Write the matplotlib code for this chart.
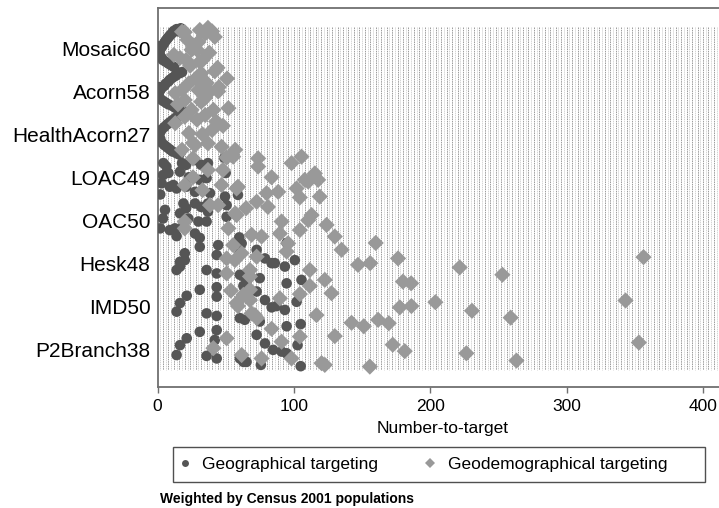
import numpy as np
import matplotlib
matplotlib.use("Agg")
import matplotlib.pyplot as plt
from matplotlib.lines import Line2D
from matplotlib.patches import Rectangle

plt.rcParams['font.family'] = ['Liberation Sans', 'DejaVu Sans']

categories = ["Mosaic60", "Acorn58", "HealthAcorn27", "LOAC49",
              "OAC50", "Hesk48", "IMD50", "P2Branch38"]

# Geographical targeting: number-to-target values and vertical jitter (row units)
geo_x = [
    [17, 16, 14, 15, 12, 11, 10, 9, 8, 7, 6, 5, 4, 3, 2, 1.5, 1, 2, 3, 4, 6, 8, 10, 12, 1, 0.5],
    [18, 16, 14, 13, 11, 9, 8, 6, 5, 3, 2, 1, 0.5, 1, 2, 4, 6, 8, 11, 13, 15, 18, 20, 1.5, 0.8],
    [17, 15, 13, 11, 9, 7, 5, 3, 2, 1, 0.5, 1.5, 3, 5, 7, 9, 11, 14, 16, 1, 2],
    [6.5, 4, 3, 18, 21, 16.5, 23, 27.5, 32, 37, 31, 36, 14, 9, 21, 27.5, 38.5, 49, 49.5, 4.3, 8, 50, 11.6, 59, 2],
    [5.5, 4, 2, 19, 21, 16.5, 27.5, 32, 37, 37, 50.7, 50.7, 30, 36, 22.6, 12.8, 9, 27.5, 19, 60, 14, 31],
    [20, 16.5, 14, 31, 44.5, 43.4, 36, 43.4, 61.7, 60.4, 72.7, 78.8, 86, 93.4, 100.7, 94.7, 60.4, 75, 65.3, 105.6, 94.7, 20, 16.5, 83.7, 63],
    [14, 16.5, 21.4, 31, 36, 43.4, 43.4, 43.4, 63, 60.4, 64, 72.7, 78.8, 83.7, 87.3, 93.4, 75, 102, 105, 94.7],
    [14, 16.5, 21.4, 31, 36, 43.4, 42, 60.4, 63, 65.3, 72.7, 78.8, 84.8, 91, 102.7, 105, 75.8, 43.4, 94.7],
]
geo_jit = [
    [-0.47, -0.44, -0.45, -0.40, -0.41, -0.37, -0.33, -0.30, -0.26, -0.22, -0.18, -0.13, -0.08, -0.03, 0.02, 0.07, 0.12, 0.17, 0.22, 0.27, 0.31, 0.35, 0.39, 0.43, -0.05, 0.10],
    [-0.45, -0.42, -0.40, -0.36, -0.32, -0.27, -0.23, -0.18, -0.13, -0.08, -0.03, 0.02, 0.07, 0.12, 0.17, 0.22, 0.26, 0.30, 0.34, 0.38, 0.42, 0.45, 0.47, -0.10, 0.10],
    [-0.45, -0.42, -0.38, -0.33, -0.28, -0.23, -0.17, -0.11, -0.05, 0.01, 0.07, 0.13, 0.19, 0.25, 0.30, 0.35, 0.40, 0.44, 0.47, -0.02, 0.10],
    [-0.25, -0.05, 0.14, -0.33, -0.29, -0.13, 0.0, -0.40, -0.29, -0.33, 0.06, 0.02, 0.26, 0.22, 0.22, 0.34, 0.37, -0.45, 0.45, -0.33, -0.10, -0.10, 0.18, 0.41, 0.40],
    [-0.24, -0.04, 0.19, -0.39, -0.28, -0.16, -0.39, -0.31, -0.39, -0.20, -0.35, -0.08, 0.03, 0.03, -0.04, 0.19, 0.23, 0.31, 0.11, 0.40, 0.37, 0.41],
    [-0.07, 0.08, 0.16, -0.38, -0.42, -0.19, 0.16, 0.24, -0.46, -0.23, -0.31, -0.11, 0.0, 0.08, -0.07, -0.47, 0.27, 0.35, 0.43, 0.39, 0.47, -0.23, -0.03, 0.0, 0.31],
    [0.13, -0.07, -0.24, -0.38, 0.17, -0.44, -0.22, 0.23, -0.47, 0.28, 0.32, -0.34, -0.14, 0.03, 0.0, 0.09, 0.36, -0.10, 0.42, 0.47],
    [0.14, -0.09, -0.25, -0.40, 0.16, -0.44, -0.21, 0.22, 0.30, 0.30, -0.33, -0.13, 0.02, 0.06, -0.09, 0.40, 0.37, 0.22, 0.10],
]

# Geodemographical targeting
demo_x = [
    [37, 42, 20, 30, 25, 16.5, 31, 44, 31, 22, 29, 33, 18, 35, 40, 21, 27, 38, 12, 24],
    [51, 42, 32, 23, 30, 38.5, 18, 52, 32, 25, 41, 20, 13, 28, 36, 45, 15, 35, 44.5, 34.8],
    [43, 29, 23, 40, 27.5, 37, 20, 13, 57, 54, 47, 18, 26, 33, 48, 35],
    [55.5, 50.7, 73.8, 73.8, 98.3, 105.6, 48, 26, 20, 47, 83.7, 108, 115.4, 117.8, 102, 58, 88.5, 80, 104.4, 119, 59, 110.5, 26, 37, 33],
    [44.5, 58, 65, 72.7, 81, 113, 110.5, 91, 69, 89.7, 104.4, 130, 52, 20, 38.5, 124, 76.3, 57, 20],
    [67.8, 56.8, 72.7, 94.7, 111.7, 122.7, 50.7, 55.5, 61.7, 95.8, 135, 160, 147, 156, 176.4, 180, 186, 221.6, 252.9, 356.4, 50.7, 67.8],
    [53.8, 58, 63, 67.8, 71.4, 89.7, 104.4, 111.7, 116.6, 127.6, 67.8, 177.7, 186.2, 203.8, 230.6, 259, 343.2, 142.3, 151.3, 161.8, 169.6, 59, 69, 73],
    [41, 50.7, 61.7, 76.3, 91, 98.3, 104.4, 120.3, 122.7, 130, 83.7, 172.5, 181.3, 155.7, 226.5, 263.2, 353],
]
demo_jit = [
    [-0.48, -0.27, -0.38, -0.15, 0.03, 0.22, 0.31, 0.45, -0.43, -0.20, 0.03, 0.27, -0.39, -0.35, -0.40, 0.27, -0.05, 0.10, 0.15, 0.40],
    [-0.30, -0.47, -0.42, -0.19, -0.03, 0.0, -0.03, 0.39, 0.24, 0.43, 0.43, 0.20, 0.04, -0.30, -0.20, -0.10, 0.30, 0.15, 0.0, -0.19],
    [-0.30, -0.34, -0.03, -0.10, 0.25, 0.21, -0.41, -0.26, 0.36, 0.48, 0.29, 0.36, 0.20, 0.0, -0.20, -0.45],
    [-0.48, -0.46, -0.44, -0.25, -0.33, -0.48, -0.17, 0.0, 0.18, 0.18, 0.0, 0.06, -0.09, 0.06, 0.26, 0.26, 0.34, 0.37, 0.47, 0.45, 0.22, 0.10, -0.44, -0.17, 0.30],
    [-0.35, -0.12, -0.28, -0.43, -0.31, -0.12, 0.0, 0.03, 0.34, 0.31, 0.23, 0.38, 0.19, 0.03, -0.35, 0.11, 0.38, -0.16, 0.19],
    [0.16, -0.07, -0.15, -0.27, 0.16, 0.39, -0.11, -0.42, -0.23, -0.46, -0.31, -0.47, 0.04, 0.0, -0.11, 0.43, 0.47, 0.10, 0.27, -0.14, 0.24, 0.31],
    [-0.36, -0.07, -0.26, -0.38, 0.21, -0.18, -0.28, -0.47, 0.21, -0.30, -0.14, 0.03, 0.0, -0.09, 0.11, 0.27, -0.13, 0.39, 0.47, 0.32, 0.40, 0.0, 0.17, 0.28],
    [-0.02, -0.25, 0.14, 0.22, -0.17, 0.22, -0.29, 0.33, 0.37, -0.30, -0.47, -0.10, 0.05, 0.41, 0.10, 0.27, -0.15],
]

xticks = [0, 100, 200, 300, 400]
series_labels = ["Geographical targeting", "Geodemographical targeting"]
note = "Weighted by Census 2001 populations"

W, H = 719, 508
fig = plt.figure(figsize=(W / 100, H / 100), dpi=100)
ax = fig.add_axes([157.5 / W, (H - 387) / H, (727.5 - 157.5) / W, (387 - 8) / H])
ax.set_xlim(0, 418)
ax.set_ylim(7.885, -0.943)

# dense dotted vertical background lines (alternating strength)
ax.vlines(np.arange(4, 418, 4), -0.5, 7.5, colors='#8c8c8c',
          linestyles=(0, (1.8, 1.0)), linewidth=0.6, zorder=1)
ax.vlines(np.arange(2, 418, 4), -0.5, 7.5, colors='#c4c4c4',
          linestyles=(0, (1.8, 1.0)), linewidth=0.5, zorder=1)

geo_col = '#555555'
demo_col = '#999999'
for i in range(len(categories)):
    ax.scatter(geo_x[i], i + np.array(geo_jit[i]), marker='o', s=58,
               color=geo_col, edgecolors='none', zorder=3)
for i in range(len(categories)):
    ax.scatter(demo_x[i], i + np.array(demo_jit[i]), marker='D', s=68,
               color=demo_col, edgecolors='none', zorder=4)

ax.set_yticks(range(len(categories)))
ax.set_yticklabels(categories, fontsize=15)
ax.tick_params(axis='y', length=0, pad=5)
ax.set_xticks(xticks)
ax.set_xticklabels([str(t) for t in xticks], fontsize=12.5)
ax.tick_params(axis='x', length=4.5, width=1, color='#707070', pad=4)
ax.set_xlabel("Number-to-target", fontsize=12.5, labelpad=5)

for s in ['left', 'top', 'bottom', 'right']:
    ax.spines[s].set_color('#707070')
    ax.spines[s].set_linewidth(1.3)

handles = [Line2D([], [], linestyle='none', marker='o', markersize=5, color=geo_col, markeredgewidth=0),
           Line2D([], [], linestyle='none', marker='D', markersize=5, color=demo_col, markeredgewidth=0)]
fig.legend(handles, series_labels, loc='center left',
           bbox_to_anchor=(178 / W, 1 - 464.5 / H), ncol=2, frameon=False,
           fontsize=12.5, handlelength=0.8, handletextpad=0.6, columnspacing=2.6,
           borderpad=0, borderaxespad=0)
fig.add_artist(Rectangle((173 / W, 1 - 482 / H), (705 - 173) / W, 35 / H,
                         transform=fig.transFigure, fill=False,
                         edgecolor='#505050', linewidth=1.0))

fig.text(160.5 / W, 1 - 499 / H, note, fontsize=10, fontweight='bold', va='center', ha='left')

fig.savefig("out.png", dpi=100)
